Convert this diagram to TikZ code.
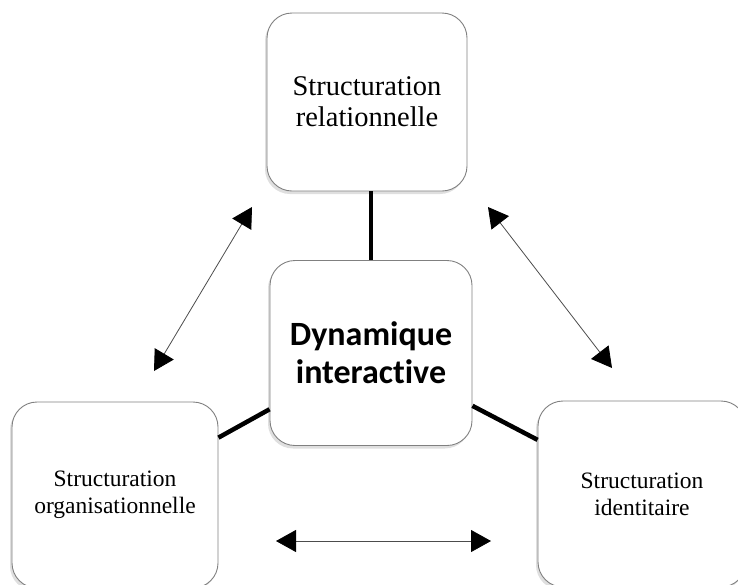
\documentclass[tikz,border=0pt]{standalone}
\usepackage{fontspec}
\setmainfont{Liberation Serif}
\newfontfamily\carlito[Ligatures=NoCommon]{Carlito}
\usetikzlibrary{positioning,shapes,arrows.meta,shadows}

\begin{document}
\begin{tikzpicture}[x=1pt, y=-1pt,
  box/.style={rectangle, rounded corners=25pt, draw=black!50, line width=0.9pt, fill=white,
    drop shadow={shadow xshift=-2pt, shadow yshift=-3pt, opacity=0.25}, align=center, inner sep=0pt},
  link/.style={line width=4.5pt},
  twoway/.style={{Triangle[length=20pt,width=22pt,color=black]}-{Triangle[length=20pt,width=22pt,color=black]}, line width=0.8pt, draw=black!70}]
\useasboundingbox (0,0) rectangle (738,584);
\clip (0,0) rectangle (738,584);

\node[box, minimum width=200pt, minimum height=178pt, font=\fontsize{28.5}{31}\selectfont] (rel) at (367,102)
  {Structuration\\relationnelle};
\node[box, minimum width=202pt, minimum height=185pt, font=\carlito\bfseries\fontsize{34}{38}\selectfont] (dyn) at (371,353)
  {Dynamique\\interactive};
\node[box, minimum width=206pt, minimum height=186pt, font=\fontsize{23.5}{27}\selectfont] (org) at (115,495)
  {Structuration\\organisationnelle};
\node[box, minimum width=208pt, minimum height=186pt, font=\fontsize{23.5}{27}\selectfont] (ident) at (642,494)
  {Structuration\\identitaire};

\coordinate (a1) at (252,207);
\coordinate (a2) at (154,371);
\coordinate (b1) at (488,207);
\coordinate (b2) at (612,368);
\coordinate (c1) at (276,541);
\coordinate (c2) at (491,541);

\draw[link] (dyn.north) -- (dyn.north |- rel.south);
\draw[link] (org) -- (dyn);
\draw[link] (dyn) -- (ident);

\draw[twoway] (a1) -- (a2);
\draw[twoway] (b1) -- (b2);
\draw[twoway] (c1) -- (c2);
\end{tikzpicture}
\end{document}
